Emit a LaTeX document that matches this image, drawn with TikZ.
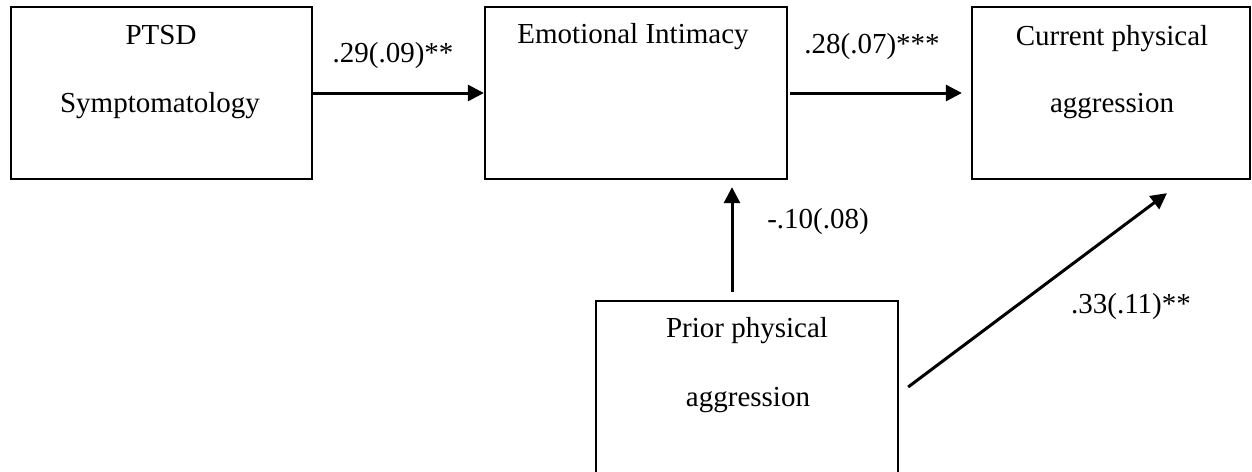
\documentclass[tikz,border=0pt]{standalone}
\usepackage{fontspec}
\setmainfont{Liberation Serif}
\usetikzlibrary{arrows.meta,calc}
\begin{document}
\begin{tikzpicture}[x=0.5pt,y=-0.5pt,
  box/.style={draw,line width=1.15pt,rectangle,inner sep=0pt},
  lbl/.style={anchor=base,inner sep=0pt,font=\fontsize{14.5}{17}\selectfont},
  arr/.style={line width=1.5pt,-{Triangle[length=8pt,width=8pt]}}]
\useasboundingbox (0,0) rectangle (1252,471);
\clip (0,0) rectangle (1252,471);
% boxes
\node[box,minimum width=150.5pt,minimum height=86pt] (ptsd) at (161.5,93) {};
\node[box,minimum width=151pt,minimum height=86pt] (ei) at (636,93) {};
\node[box,minimum width=139pt,minimum height=86pt] (cur) at (1111,93) {};
\node[box,minimum width=151pt,minimum height=92pt] (prior) at (747,393) {};
% box texts
\node[lbl] (t1) at (161,44) {PTSD};
\node[lbl] (t2) at (160,112) {Symptomatology};
\node[lbl] (t3) at (633,43) {Emotional Intimacy};
\node[lbl] (t4) at (1112,45) {Current physical};
\node[lbl] (t5) at (1112,112) {aggression};
\node[lbl] (t6) at (747,337) {Prior physical};
\node[lbl] (t7) at (748,406) {aggression};
% connectors
\draw[arr] (ptsd.east) -- (ei.west);
\draw[arr] ($(ei.east)+(2,0)$) -- ($(cur.west)+(-9,0)$);
\draw[arr] ($(prior.north)+(-15,-8)$) -- ($(ei.south)+(96,7)$);
\draw[arr] ($(prior.east)+(9,-6)$) -- ($(cur.south)+(56,13)$);
% coefficients
\node[lbl] (c1) at (393,62) {.29(.09)**};
\node[lbl] (c2) at (872,53) {.28(.07)***};
\node[lbl] (c3) at (818,228) {-.10(.08)};
\node[lbl] (c4) at (1131,313) {.33(.11)**};
\end{tikzpicture}
\end{document}
